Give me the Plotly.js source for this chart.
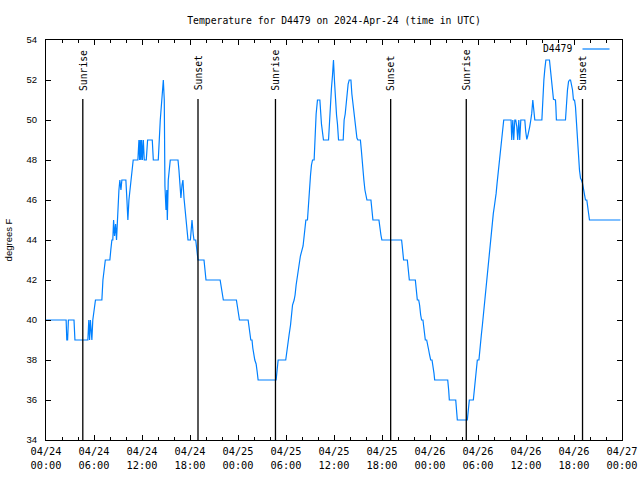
<!DOCTYPE html>
<html>
<head>
<meta charset="utf-8">
<script src="https://cdn.plot.ly/plotly-3.0.1.min.js"></script>
<style>html,body{margin:0;padding:0;background:#fff;}#chart{width:640px;height:480px;}</style>
</head>
<body>
<div id="chart"></div>
<script>
// Hours since 2024-04-24 00:00 UTC
const hours = [
  0.00,2.52,2.60,2.70,2.80,3.50,3.62,5.24,5.35,5.45,5.55,5.74,5.85,6.00,6.19,6.99,7.11,7.41,7.99,
  8.10,8.24,8.35,8.45,8.57,8.70,8.82,8.99,9.12,9.24,9.36,9.49,9.70,9.99,10.12,10.24,10.37,10.55,10.70,10.90,11.49,
  11.61,11.70,11.78,11.86,11.95,12.05,12.16,12.29,12.54,12.70,12.95,13.29,13.42,14.04,14.29,14.54,14.67,14.79,14.87,15.00,15.10,15.17,15.29,15.54,15.67,16.50,
  16.62,16.75,16.87,17.00,17.12,17.25,17.37,17.50,17.62,17.75,18.05,18.15,18.25,18.40,18.50,18.71,18.85,19.00,19.75,19.90,20.00,21.76,21.95,22.17,23.80,24.00,24.18,25.26,25.45,25.60,25.75,25.85,26.10,26.26,26.40,26.51,28.76,
  28.85,29.01,29.97,30.10,30.27,30.39,30.56,30.69,30.81,31.02,31.14,31.27,31.44,31.56,31.80,32.14,32.27,32.39,32.48,32.69,32.81,32.94,33.06,33.19,33.31,33.52,33.65,33.77,33.94,34.23,
  34.44,34.56,34.69,35.32,35.44,35.56,35.69,35.81,35.94,36.06,36.19,36.31,36.44,36.57,37.15,37.27,37.40,37.52,37.65,37.77,37.90,38.11,38.23,38.36,38.48,38.61,38.73,38.86,38.99,39.30,39.42,39.50,39.61,39.73,39.86,39.98,40.11,40.61,40.73,40.86,41.61,41.73,41.86,41.99,
  44.45,44.52,44.58,44.70,45.16,45.22,45.28,45.41,46.16,46.22,46.28,46.41,46.58,46.70,46.83,46.95,47.12,47.20,47.29,47.41,47.58,47.70,47.83,47.95,48.08,48.25,48.37,48.50,48.58,50.21,50.34,50.42,51.21,51.34,51.42,52.67,52.80,52.92,53.42,
  53.55,53.67,53.80,53.92,54.12,54.20,54.30,54.42,54.55,54.67,54.80,54.92,55.05,55.17,55.30,55.42,55.55,55.67,55.80,55.92,56.05,56.17,56.26,56.38,56.51,56.63,56.76,56.85,56.97,57.10,57.22,
  58.14,58.22,58.35,58.47,58.60,58.72,58.85,58.97,59.10,59.22,59.35,59.85,59.97,60.10,60.22,60.35,60.47,60.60,60.72,60.85,60.97,61.10,61.98,62.04,62.10,62.23,62.35,62.48,62.93,63.06,63.18,63.31,63.43,63.68,63.74,63.80,64.93,65.06,65.18,65.31,65.43,65.56,65.68,65.81,65.93,66.06,66.18,66.31,66.43,66.56,66.68,66.81,66.93,67.06,67.18,67.31,67.43,67.60,67.68,67.81,67.93,71.80
];
// Temperature readings, degrees F
const tempF = [
  40,40,39,39,40,40,39,39,40,39,40,39,40,40.5,41,41,42,43,43,
  43.5,44,44,45,44.2,44.8,44,45.6,46.5,47,46.5,47,47,47,46,45,46,46.8,47.5,48,48,
  49,48,49,48,49,48,49,48,48,49,49,49,48,48,50,51.2,52,51,46.7,45.5,46.5,45,47,48,48,48,
  47.5,46.75,46.1,46.75,47,46.1,45.6,45,44.6,44,44,44.8,45,44.3,44,44,43.3,43,43,42.5,42,42,41.5,41,41,40.5,40,40,39.5,39,39,38.6,38,37.8,37.4,37,37,
  37.5,38,38,38.5,39,39.25,39.75,40.25,40.75,41,41.25,41.75,42.25,42.75,43.2,43.7,44.3,44.8,45,45,46,46.6,47.25,47.75,48,48,49.5,50.3,51,51,
  49.8,49.4,49,49,50,50.8,51.6,52.25,53,51.9,50.8,50.25,49.8,49,49,50,50.3,50.8,51.3,51.8,52,52,51.3,50.8,50.3,49.8,49.4,49.1,49,49,48.5,48,47.5,47,46.5,46.2,46,46,45.3,45,45,44.5,44.25,44,
  44,43.75,43.25,43,43,42.75,42.25,42,42,41.75,41.25,41,41,40.75,40.25,40,40,39.75,39.25,39,39,38.83,38.5,38.25,38,38,37.75,37.33,37,37,36.5,36,36,35.5,35,35,35.5,36,36,
  36.6,37.2,37.75,38,38,38.5,38.9,39.25,39.75,40.25,40.75,41.25,41.75,42.25,42.75,43.25,43.8,44.33,44.8,45.33,45.7,46,46.33,46.83,47.33,47.83,48.33,48.83,49.33,49.83,50,
  50,49,50,49,50,50,49.67,49,50,49,50,50,49.42,49.03,49.2,49.42,49.67,50,50.33,51,50.33,50,50,50.5,51.5,52,52.53,53,53,52.33,51.92,51.5,51.03,51,50.67,50,50,51,51.5,51.92,52,52,51.83,51.5,51,51,50.67,49.67,48.83,48.17,47.5,47.08,47,46.83,46.5,46.17,46,46,45.67,45.33,45,45
];
const sunTimes = ['2024-04-24 04:36','2024-04-24 19:00','2024-04-25 04:41','2024-04-25 19:05','2024-04-26 04:32','2024-04-26 19:04'];
const sunLabels = ['Sunrise','Sunset','Sunrise','Sunset','Sunrise','Sunset'];
const seriesName = 'D4479';
const xRange = ['2024-04-24 00:00','2024-04-27 00:00'];
const yRange = [34, 54];

const base = Date.UTC(2024, 3, 24);
function toDate(h) {
  return new Date(base + Math.round(h * 60) * 60000).toISOString().slice(0, 16).replace('T', ' ');
}
const xs = hours.map(toDate);

const mono = 'DejaVu Sans Mono, Liberation Mono, monospace';
const sans = 'Liberation Sans, Arial, sans-serif';
const blue = 'rgb(0,128,255)';

const shapes = sunTimes.map(t => ({
  type: 'line', xref: 'x', yref: 'paper', x0: t, x1: t, y0: 0, y1: 0.8525,
  line: {color: '#000', width: 1.3}
}));
// legend key line
shapes.push({type: 'line', xref: 'paper', yref: 'paper', x0: 0.9314, x1: 0.9783, y0: 0.9775, y1: 0.9775,
  line: {color: blue, width: 1.2}});

const annotations = sunTimes.map((t, i) => ({
  x: t, xref: 'x', y: 0.868, yref: 'paper', text: sunLabels[i], showarrow: false,
  textangle: -90, xanchor: 'center', yanchor: 'bottom',
  font: {family: mono, size: 9.75, color: '#000'}
}));
annotations.push({x: 0.9175, xref: 'paper', y: 0.9775, yref: 'paper', text: seriesName, showarrow: false,
  xanchor: 'right', yanchor: 'middle', font: {family: mono, size: 9.75, color: '#000'}});

const trace = {
  x: xs, y: tempF, type: 'scatter', mode: 'lines', name: seriesName,
  line: {color: blue, width: 1.2}, hoverinfo: 'x+y'
};

const layout = {
  width: 640, height: 480,
  margin: {l: 46, r: 18, t: 40, b: 40, pad: 0},
  paper_bgcolor: '#fff', plot_bgcolor: '#fff',
  showlegend: false,
  title: {text: 'Temperature for D4479 on 2024-Apr-24 (time in UTC)', x: 0.5, xref: 'paper', xanchor: 'center',
    y: 0.958, yref: 'container', yanchor: 'middle', font: {family: mono, size: 9.75, color: '#000'}},
  xaxis: {
    type: 'date', range: xRange, autorange: false,
    tick0: '2024-04-24 00:00', dtick: 21600000, tickformat: '%m/%d<br>%H:%M',
    ticks: 'inside', ticklen: 5, tickwidth: 1, tickcolor: '#000',
    showline: true, linecolor: '#000', linewidth: 1, mirror: 'ticks',
    showgrid: false, zeroline: false, automargin: false, ticklabelstandoff: 2,
    minor: {dtick: 7200000, ticks: 'inside', ticklen: 3, tickcolor: '#000', showgrid: false},
    tickfont: {family: mono, size: 10.3, color: '#000'}
  },
  yaxis: {
    range: yRange, autorange: false, dtick: 2, tick0: 34,
    ticks: 'inside', ticklen: 5, tickwidth: 1, tickcolor: '#000',
    showline: true, linecolor: '#000', linewidth: 1, mirror: 'ticks',
    showgrid: false, zeroline: false, automargin: false, ticklabelstandoff: 6,
    tickfont: {family: sans, size: 9.5, color: '#000'},
    title: {text: 'degrees F', standoff: 12, font: {family: sans, size: 9.5, color: '#000'}}
  },
  shapes: shapes,
  annotations: annotations
};

Plotly.newPlot('chart', [trace], layout, {displayModeBar: false, staticPlot: true});
</script>
</body>
</html>
